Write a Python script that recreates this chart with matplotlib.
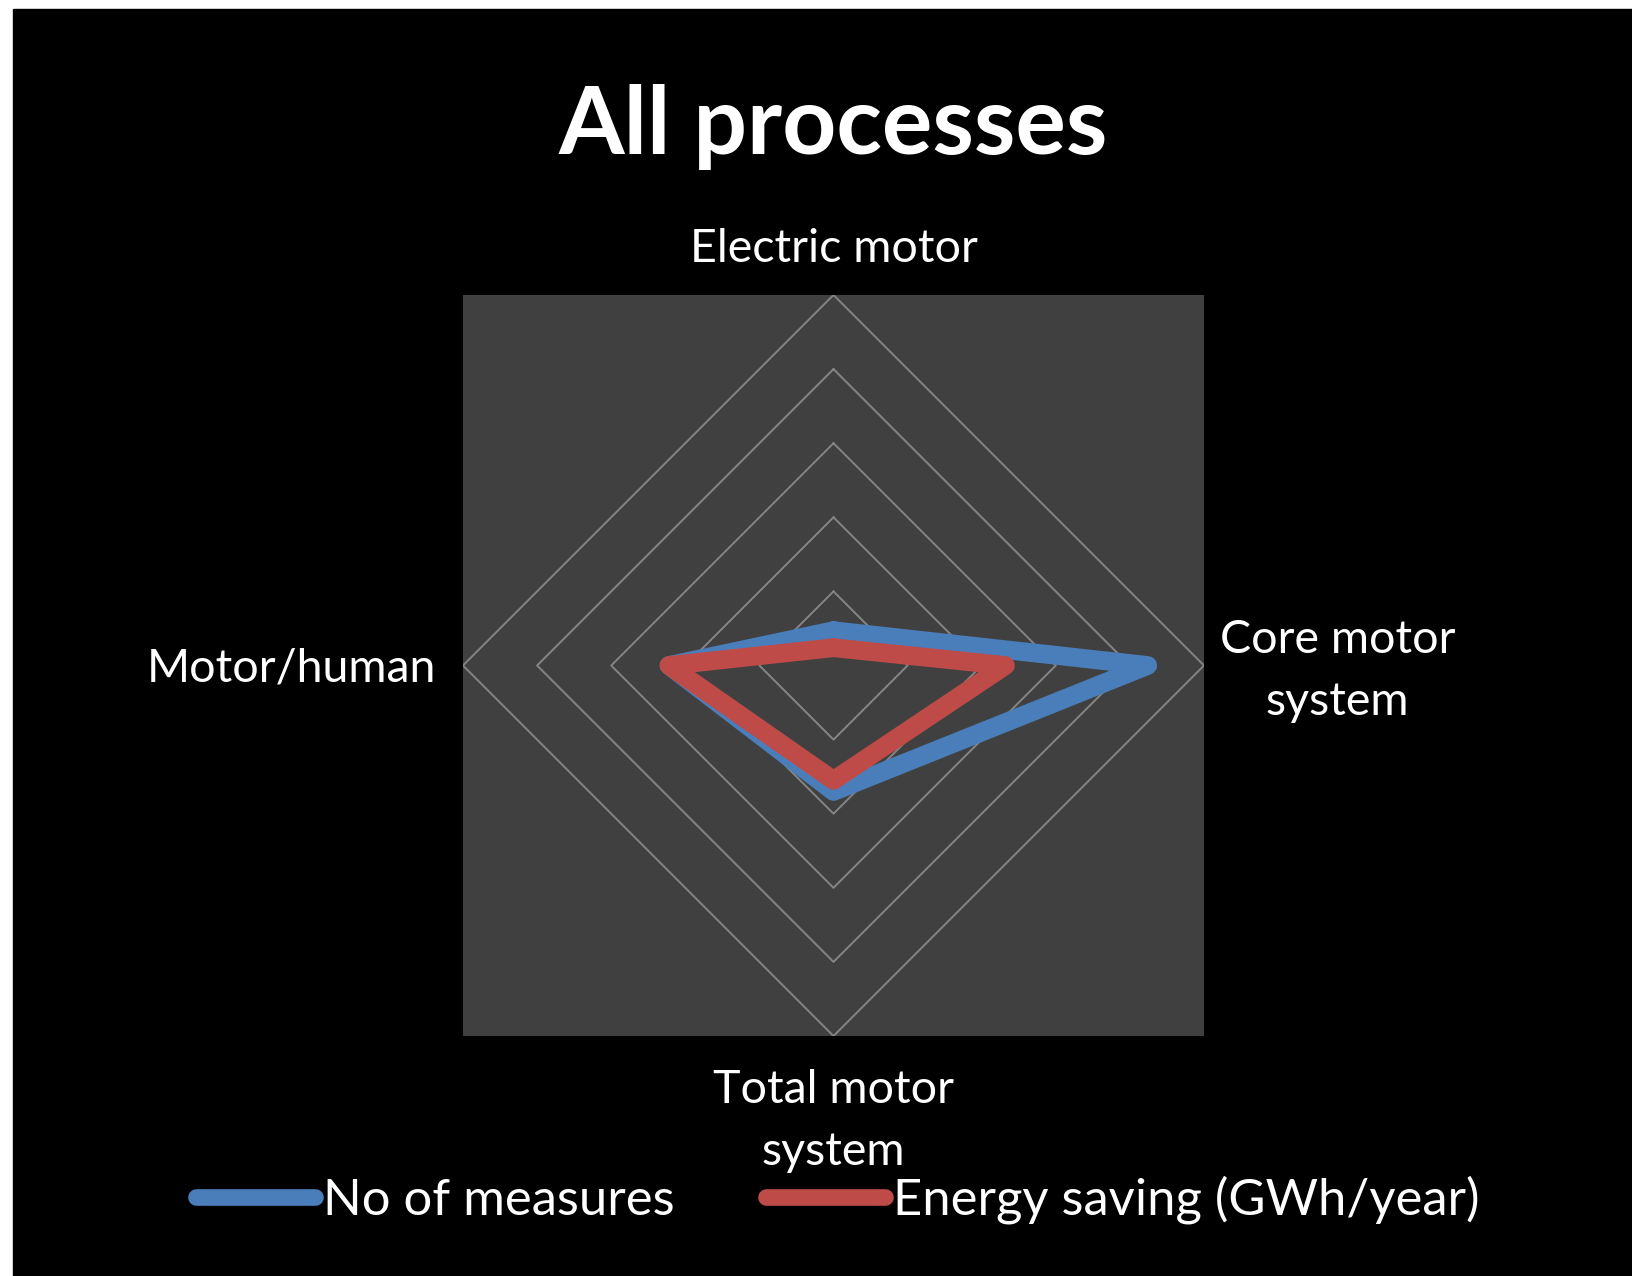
import numpy as np
import matplotlib
matplotlib.use('Agg')
import matplotlib.pyplot as plt
from matplotlib.patches import Rectangle

# data (outer ring = 50)
categories = ['Electric motor', 'Core motor\nsystem', 'Total motor\nsystem', 'Motor/human']
measures = [4.7, 42.4, 17.0, 22.2]
saving = [2.4, 23.2, 15.5, 22.2]
series_names = ['No of measures', 'Energy saving (GWh/year)']
rings = [10, 20, 30, 40, 50]

blue = '#4A7EBB'
red = '#BE4B48'

plt.rcParams['font.family'] = ['Lato', 'DejaVu Sans']

W, H = 1632, 1276
fig = plt.figure(figsize=(W / 100, H / 100), dpi=100, facecolor='white')

# black chart area (thin white margin left/top like the screenshot)
fig.patches.append(Rectangle((13 / W, 0), 1 - 13 / W, 1 - 9 / H,
                             transform=fig.transFigure, color='black', zorder=-5))

# plot area square
rect = [463 / W, 1 - 1036 / H, 741 / W, 741 / H]
bg = fig.add_axes(rect)
bg.set_facecolor('#404040')
bg.set_xticks([])
bg.set_yticks([])
for s in bg.spines.values():
    s.set_visible(False)

ax = fig.add_axes(rect, projection='polar')
ax.set_facecolor('none')
ax.set_theta_offset(np.pi / 2)
ax.set_theta_direction(-1)
ax.set_ylim(0, 50)
ax.set_xticks([])
ax.set_yticks([])
ax.grid(False)
ax.spines['polar'].set_visible(False)

angles = np.arange(len(categories)) * 2 * np.pi / len(categories)
closed = np.append(angles, angles[0])

for r in rings:
    ax.plot(closed, [r] * len(closed), color='#858585', lw=1.4, zorder=1)

for vals, col, name in [(measures, blue, series_names[0]), (saving, red, series_names[1])]:
    ax.plot(closed, vals + vals[:1], color=col, lw=13.5, label=name,
            solid_joinstyle='round', solid_capstyle='round', zorder=3)

# category labels
lab = dict(color='white', fontsize=33.5, xycoords='data', textcoords='offset points',
           multialignment='center', linespacing=1.6, annotation_clip=False)
ax.annotate(categories[0], (angles[0], 50), xytext=(0, 24), ha='center', va='baseline', **lab)
ax.annotate(categories[1], (angles[1], 50), xytext=(96, -4), ha='center', va='center', **lab)
ax.annotate(categories[2], (angles[2], 50), xytext=(0, -61), ha='center', va='center', **lab)
ax.annotate(categories[3], (angles[3], 50), xytext=(-19, -2), ha='right', va='center', **lab)

fig.text(833 / W, 1 - 154 / H, 'All processes', color='white', fontsize=68,
         fontweight='bold', ha='center', va='baseline')

leg = fig.legend(loc='center', bbox_to_anchor=(838 / W, 1 - 1200 / H), ncol=2,
                 frameon=False, fontsize=36.5, handlelength=2.35, handletextpad=0.16,
                 columnspacing=1.8, borderpad=0, labelcolor='white')
for h in leg.get_lines():
    h.set_linewidth(12)

fig.savefig('out.png', dpi=100, facecolor='white')
